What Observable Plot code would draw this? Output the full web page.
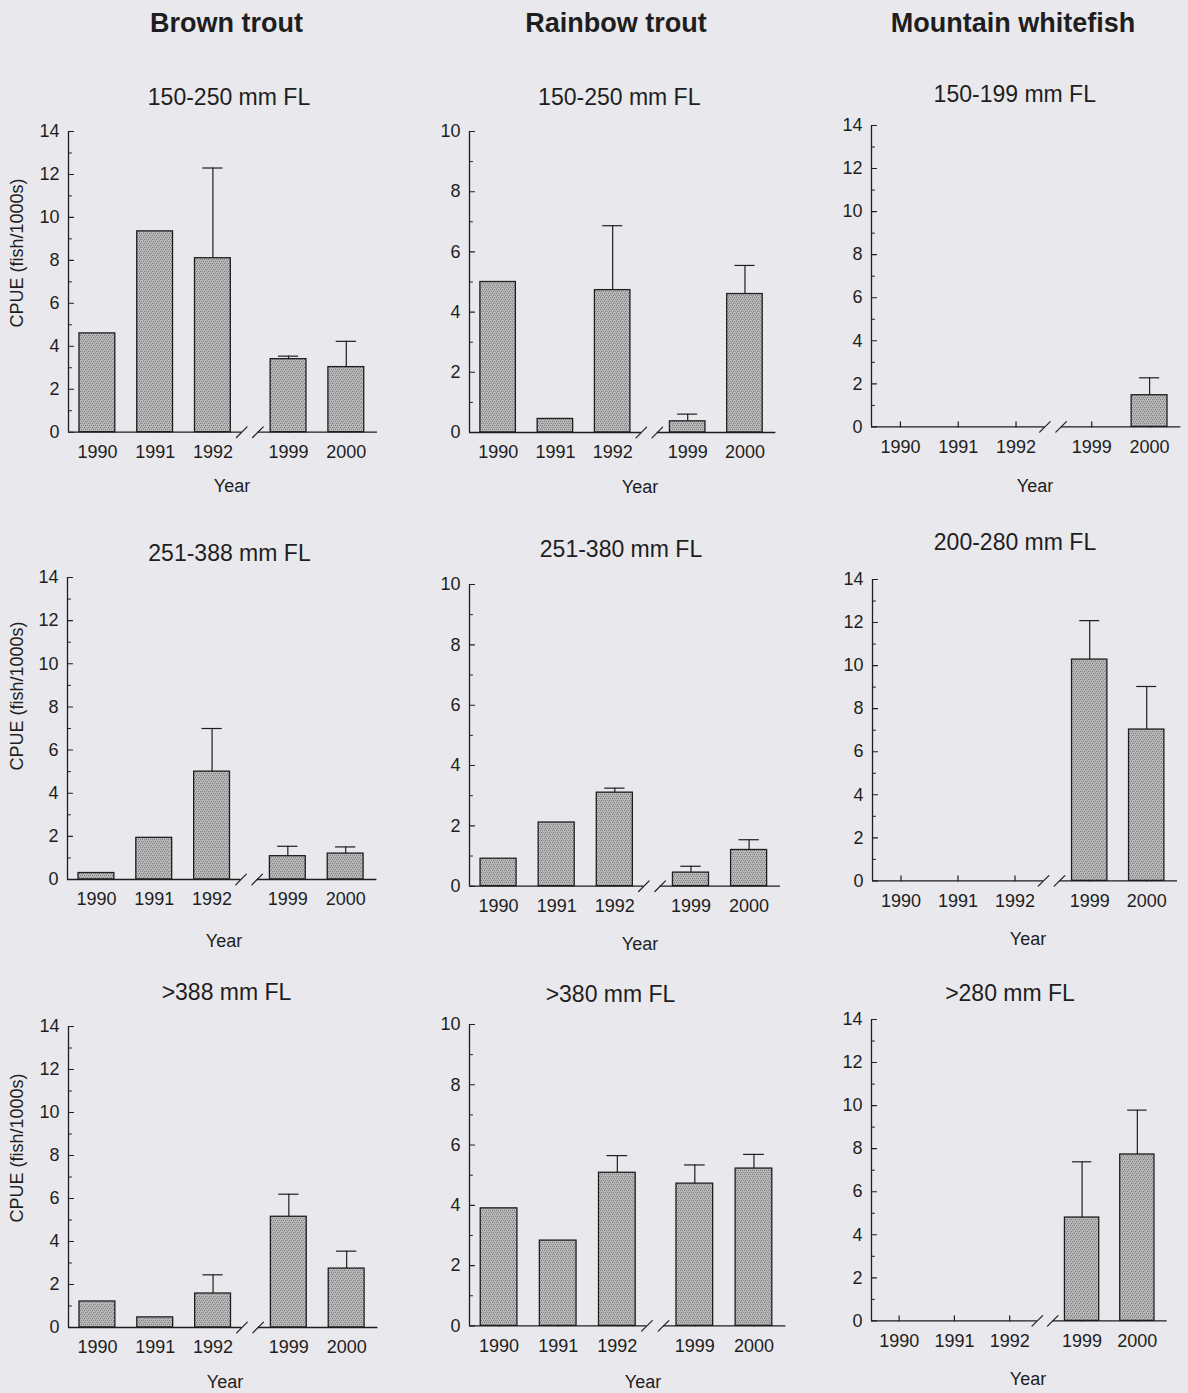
<!DOCTYPE html>
<html>
<head>
<meta charset="utf-8">
<script src="https://cdn.jsdelivr.net/npm/d3@7"></script>
<script src="https://cdn.jsdelivr.net/npm/@observablehq/plot@0.6"></script>
<style>
  body { margin: 0; background: #e9e8ec; }
  #root { position: relative; width: 1188px; height: 1393px; overflow: hidden;
          font-family: "Liberation Sans", Arial, Helvetica, sans-serif; color: #1e1e1e; }
  .lbl { position: absolute; transform: translate(-50%, -50%); white-space: nowrap; line-height: 1; }
  .rot { transform: translate(-50%, -50%) rotate(-90deg); }
  .panel { position: absolute; }
</style>
</head>
<body>
<svg width="0" height="0" style="position:absolute">
  <defs>
    <pattern id="stip" width="4" height="4" patternUnits="userSpaceOnUse">
      <rect width="4" height="4" fill="#bcbcbc"></rect>
      <rect x="0" y="0" width="1" height="1" fill="#787878"></rect>
      <rect x="2" y="0" width="1" height="1" fill="#8a8a8a"></rect>
      <rect x="1" y="2" width="1" height="1" fill="#7c7c7c"></rect>
      <rect x="3" y="2" width="1" height="1" fill="#848484"></rect>
      <rect x="3" y="1" width="1" height="1" fill="#a0a0a0"></rect>
      <rect x="1" y="3" width="1" height="1" fill="#a4a4a4"></rect>
    </pattern>
  </defs>
</svg>
<div id="root"></div>
<script>
// ---------------- DATA ----------------
const years = [1990, 1991, 1992, 1999, 2000];
const species = ["Brown trout", "Rainbow trout", "Mountain whitefish"];
const brownClasses = ["150-250 mm FL", "251-388 mm FL", ">388 mm FL"];
const rainbowClasses = ["150-250 mm FL", "251-380 mm FL", ">380 mm FL"];
const whitefishClasses = ["150-199 mm FL", "200-280 mm FL", ">280 mm FL"];
const yMaxBySpecies = [14, 10, 14];
const yTicks14 = [0, 2, 4, 6, 8, 10, 12, 14];
const yTicks10 = [0, 2, 4, 6, 8, 10];
const yLabel = "CPUE (fish/1000s)";
const xLabel = "Year";

// CPUE means and standard errors (upper error bar only)
const brownSmall     = [4.6, 9.35, 8.1, 3.4, 3.03];
const brownSmallSE   = [0, 0, 4.2, 0.14, 1.2];
const brownMid       = [0.3, 1.93, 5.0, 1.08, 1.2];
const brownMidSE     = [0, 0, 2.0, 0.46, 0.31];
const brownLarge     = [1.21, 0.47, 1.58, 5.15, 2.74];
const brownLargeSE   = [0, 0, 0.87, 1.05, 0.81];

const rainbowSmall   = [5.0, 0.45, 4.73, 0.37, 4.6];
const rainbowSmallSE = [0, 0, 2.14, 0.24, 0.95];
const rainbowMid     = [0.91, 2.11, 3.1, 0.45, 1.2];
const rainbowMidSE   = [0, 0, 0.15, 0.21, 0.34];
const rainbowLarge   = [3.9, 2.83, 5.08, 4.72, 5.22];
const rainbowLargeSE = [0, 0, 0.57, 0.62, 0.47];

const whiteSmall     = [0, 0, 0, 0, 1.47];
const whiteSmallSE   = [0, 0, 0, 0, 0.81];
const whiteMid       = [0, 0, 0, 10.28, 7.03];
const whiteMidSE     = [0, 0, 0, 1.81, 2.0];
const whiteLarge     = [0, 0, 0, 4.8, 7.73];
const whiteLargeSE   = [0, 0, 0, 2.59, 2.06];

// ---------------- LAYOUT ----------------
// [axisX, yTop, y0, axisEnd] in page pixels for each panel (row-major)
const layout = [
  [[68, 131, 431.7, 377], [469.3, 130.7, 431.7, 775.7], [870.7, 125.3, 426.7, 1180]],
  [[67.3, 577.3, 879.3, 376.7], [469, 584, 885.7, 780], [871.7, 579.3, 880.7, 1176.7]],
  [[68.3, 1025.7, 1326.7, 377.7], [469.3, 1024.3, 1325.7, 785.7], [871, 1019.3, 1320.7, 1166.7]]
];
const headerPos = [[226.5, 22.5], [616, 22.5], [1013, 23]];
const subPos = [
  [[229, 96.7], [619.3, 96.7], [1014.8, 94.3]],
  [[229.5, 553], [621, 549], [1015, 542]],
  [[226.5, 992], [610.5, 994], [1010, 993]]
];
const yearPos = [
  [[232, 486], [640, 487], [1035, 486]],
  [[224, 941], [640, 944], [1028, 939]],
  [[225, 1382], [643, 1382], [1028, 1379]]
];
const cpuePos = [[17, 253], [17, 696], [17, 1148]];

const series = [
  [[brownSmall, brownSmallSE], [rainbowSmall, rainbowSmallSE], [whiteSmall, whiteSmallSE]],
  [[brownMid, brownMidSE], [rainbowMid, rainbowMidSE], [whiteMid, whiteMidSE]],
  [[brownLarge, brownLargeSE], [rainbowLarge, rainbowLargeSE], [whiteLarge, whiteLargeSE]]
];
const classes = [brownClasses, rainbowClasses, whitefishClasses];

// position on the broken axis: a compressed gap between 1992 and 1999
const GAP = 0.31;
const slot = (i) => i + (years[i] > 1995 ? GAP : 0);
const xDomain = [-0.5, 4.85];
const breakA = 2.5, breakB = 2.78;
const HALF = 0.31, CAP = 0.175;

const lineShape = { draw(ctx, l) { ctx.moveTo(0, 0); ctx.lineTo(0, -l); } };

const root = document.getElementById("root");
const FONT = '"Liberation Sans", Arial, Helvetica, sans-serif';
const INK = "#1e1e1e";

function addLabel(text, x, y, size, weight, rotate) {
  const d = document.createElement("div");
  d.className = "lbl" + (rotate ? " rot" : "");
  d.textContent = text;
  d.style.left = x + "px";
  d.style.top = y + "px";
  d.style.fontSize = size + "px";
  if (weight) d.style.fontWeight = weight;
  root.appendChild(d);
}

species.forEach((s, c) => addLabel(s, headerPos[c][0], headerPos[c][1], 27, "bold"));

for (let r = 0; r < 3; r++) {
  for (let c = 0; c < 3; c++) {
    const [ax, yTop, y0, end] = layout[r][c];
    const yMax = yMaxBySpecies[c];
    const majors = yMax === 14 ? yTicks14 : yTicks10;
    const minors = majors.slice(1).map((v) => v - 1);
    const [vals, ses] = series[r][c];
    const data = years.map((yr, i) => ({ year: yr, pos: slot(i), v: vals[i], se: ses[i] }));
    const positions = data.map((d) => d.pos);

    const mL = 60, mT = 12, mR = 12, mB = 40;
    const width = (end - ax) + mL + mR;
    const height = (y0 - yTop) + mT + mB;

    const chart = Plot.plot({
      width, height,
      marginLeft: mL, marginTop: mT, marginRight: mR, marginBottom: mB,
      style: { fontFamily: FONT, fontSize: "18px", color: INK, background: "transparent", overflow: "visible" },
      x: { type: "linear", domain: xDomain },
      y: { domain: [0, yMax] },
      marks: [
        // category ticks on the baseline (pointing up)
        Plot.vector(data, { x: "pos", y: () => 0, length: 5, rotate: 0, anchor: "start", shape: lineShape, stroke: INK, strokeWidth: 1.2 }),
        // bars
        Plot.rectY(data.filter((d) => d.v > 0), {
          x1: (d) => d.pos - HALF, x2: (d) => d.pos + HALF, y1: () => 0, y2: "v",
          fill: "url(#stip)", stroke: INK, strokeWidth: 1.3
        }),
        // error bars (upper)
        Plot.ruleX(data.filter((d) => d.se > 0), { x: "pos", y1: "v", y2: (d) => d.v + d.se, stroke: INK, strokeWidth: 1.2 }),
        Plot.ruleY(data.filter((d) => d.se > 0), { y: (d) => d.v + d.se, x1: (d) => d.pos - CAP, x2: (d) => d.pos + CAP, stroke: INK, strokeWidth: 1.2 }),
        // y axis line
        Plot.ruleX([xDomain[0]], { y1: 0, y2: yMax, stroke: INK, strokeWidth: 1.3 }),
        // broken baseline
        Plot.ruleY([0], { x1: xDomain[0], x2: breakA, stroke: INK, strokeWidth: 1.3 }),
        Plot.ruleY([0], { x1: breakB, x2: xDomain[1], stroke: INK, strokeWidth: 1.3 }),
        Plot.vector([breakA, breakB], { x: (d) => d, y: () => 0, length: 15, rotate: 45, anchor: "middle", shape: lineShape, stroke: INK, strokeWidth: 1.2 }),
        // inward y ticks
        Plot.vector(majors, { x: () => xDomain[0], y: (d) => d, length: 5, rotate: 90, anchor: "start", shape: lineShape, stroke: INK, strokeWidth: 1.1 }),
        Plot.vector(minors, { x: () => xDomain[0], y: (d) => d, length: 3, rotate: 90, anchor: "start", shape: lineShape, stroke: INK, strokeWidth: 1 }),
        // tick labels
        Plot.axisY({ ticks: majors, tickSize: 0, tickPadding: 9, fontSize: 18, label: null, tickFormat: (d) => String(d) }),
        Plot.axisX({ ticks: positions, tickSize: 0, tickPadding: 13, fontSize: 18, label: null,
                     tickFormat: (d) => String(years[positions.indexOf(d)]) })
      ]
    });
    chart.classList.add("panel");
    chart.style.left = (ax - mL) + "px";
    chart.style.top = (yTop - mT) + "px";
    chart.style.width = width + "px";
    chart.style.height = height + "px";
    chart.style.maxWidth = "none";
    root.appendChild(chart);

    addLabel(classes[c][r], subPos[r][c][0], subPos[r][c][1], 23);
    addLabel(xLabel, yearPos[r][c][0], yearPos[r][c][1], 18);
    if (c === 0) addLabel(yLabel, cpuePos[r][0], cpuePos[r][1], 18, null, true);
  }
}
</script>
</body>
</html>
